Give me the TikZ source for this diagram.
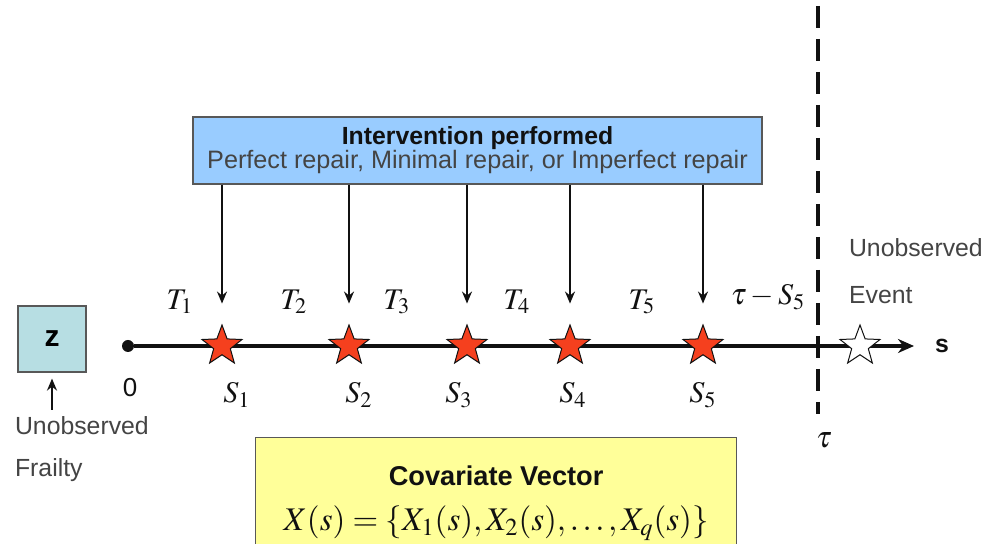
\documentclass[tikz,border=0pt]{standalone}
\usepackage{mathptmx}
\usepackage{fontspec}
\setsansfont{Liberation Sans}
\usepackage{tikz}
\usetikzlibrary{positioning,arrows.meta,shapes.geometric}
\definecolor{ink}{HTML}{111111}
\definecolor{txt}{HTML}{444444}
\definecolor{cInt}{HTML}{99CCFF}
\definecolor{cFrail}{HTML}{B7DEE3}
\definecolor{cCov}{HTML}{FFFF99}
\definecolor{cStar}{HTML}{F5401E}
\tikzset{
  boxb/.style  = {draw=ink!70, line width=0.6pt, align=center, inner sep=0pt},
  ibox/.style  = {boxb, fill=cInt},
  zbox/.style  = {boxb, fill=cFrail},
  cbox/.style  = {boxb, fill=cCov},
  sf/.style    = {font=\sffamily\fontsize{12.4}{15}\selectfont, text=txt},
  sfb/.style   = {font=\sffamily\bfseries\fontsize{12.4}{15}\selectfont, text=ink},
  mlab/.style  = {font=\fontsize{15}{18}\selectfont, text=ink, inner sep=0pt},
  rstar/.style = {star, star points=5, star point ratio=2.4, minimum size=21pt, inner sep=0pt,
                  draw=ink, line width=0.5pt, fill=cStar},
  wstar/.style = {rstar, fill=white},
  dot/.style   = {circle, fill=ink, inner sep=0pt, minimum size=6pt},
  ar/.style    = {-{Stealth[length=6pt,width=5pt]}, line width=0.9pt, draw=ink},
  axis/.style  = {-{Stealth[length=8pt,width=7pt]}, line width=1.6pt, draw=ink},
  dsh/.style   = {line width=2pt, draw=ink, dash pattern=on 11pt off 5.5pt},
}

\begin{document}
\begin{tikzpicture}[x=0.5pt,y=-0.5pt]
  \clip (0,0) rectangle (986,544);

  % ---------------- intervention box ----------------
  \node[ibox, minimum width=284.5pt, minimum height=33.5pt] (ib) at (477.5,150.5)
       {\sffamily\bfseries\color{ink}\fontsize{12.4}{15}\selectfont Intervention performed\\[0pt]
        \sffamily\color{txt}\fontsize{12.6}{15}\selectfont Perfect repair, Minimal repair, or Imperfect repair};

  % ---------------- time axis ----------------
  \node[dot] (o) at (128,346) {};
  \coordinate (send) at (914,346);
  \draw[axis] (o) -- (send);
  \node[sfb, anchor=west] (s) at (928,346) {s};
  \node[sfb, font=\sffamily\fontsize{13}{15}\selectfont] (zero) at (130,388) {0};

  % censoring time
  \coordinate (tt) at (818,6);
  \coordinate (tb) at (818,414);
  \draw[dsh] (tt) -- (tb);
  \node[mlab] (tau) at (824,440) {$\tau$};

  % interventions
  \node[rstar] (st1) at (222,346) {};
  \node[rstar] (st2) at (349,346) {};
  \node[rstar] (st3) at (467,346) {};
  \node[rstar] (st4) at (570,346) {};
  \node[rstar] (st5) at (703,346) {};
  \draw[ar, shorten >=10pt] (ib.south -| st1) -- (st1.north);
  \draw[ar, shorten >=10pt] (ib.south -| st2) -- (st2.north);
  \draw[ar, shorten >=10pt] (ib.south -| st3) -- (st3.north);
  \draw[ar, shorten >=10pt] (ib.south -| st4) -- (st4.north);
  \draw[ar, shorten >=10pt] (ib.south -| st5) -- (st5.north);

  % gap times and event times
  \node[mlab] (t1) at (180,302) {$T_1$};
  \node[mlab] (t2) at (294,302) {$T_2$};
  \node[mlab] (t3) at (397,302) {$T_3$};
  \node[mlab] (t4) at (517,302) {$T_4$};
  \node[mlab] (t5) at (642,302) {$T_5$};
  \node[mlab] (ts) at (768,297) {$\tau - S_5$};
  \node[mlab] (s1) at (237,395) {$S_1$};
  \node[mlab] (s2) at (359,395) {$S_2$};
  \node[mlab] (s3) at (459,395) {$S_3$};
  \node[mlab] (s4) at (573,395) {$S_4$};
  \node[mlab] (s5) at (703,395) {$S_5$};

  % unobserved event beyond tau
  \node[wstar] (ev) at (860,346) {};
  \node[sf, anchor=west] (uo) at (842,248) {Unobserved};
  \node[sf, anchor=west] (evl) at (842,295) {Event};

  % ---------------- frailty ----------------
  \node[zbox, minimum width=34pt, minimum height=33pt] (zb) at (52,339)
       {\sffamily\bfseries\fontsize{15}{17}\selectfont z};
  \node[sf, anchor=west] (fr1) at (8,426) {Unobserved};
  \node[sf, anchor=west] (fr2) at (8,470) {Frailty};
  \draw[ar, line width=1.1pt, shorten >=3pt] (fr1.north -| zb.south) -- (zb.south);

  % ---------------- covariates ----------------
  \node[cbox, minimum width=240.5pt, minimum height=62pt, anchor=north west] (cv) at (255,437) {};
  \node[sfb, font=\sffamily\bfseries\fontsize{13.6}{16}\selectfont] (cvt) at (cv.north |- 0,476) {Covariate Vector};
  \node[mlab, font=\fontsize{16.5}{19}\selectfont] (cvf) at (cv.north |- 0,523)
       {$X(s) = \{X_1(s), X_2(s), \ldots, X_q(s)\}$};
\end{tikzpicture}
\end{document}
